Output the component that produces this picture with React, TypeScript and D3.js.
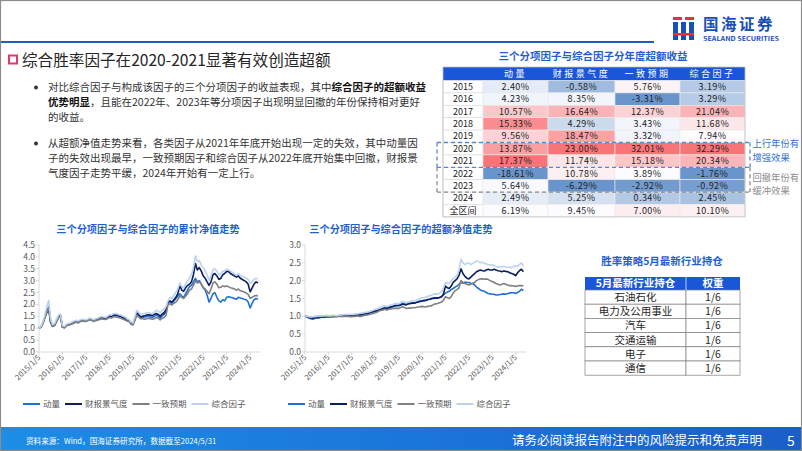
import React from "react";
import * as d3 from "d3";

// ---------- data ----------
const tableYears = ["2015", "2016", "2017", "2018", "2019", "2020", "2021", "2022", "2023", "2024", "全区间"];
const tableHeaders = ["动量", "财报景气度", "一致预期", "综合因子"];
const tblMomentum = [2.40, 4.23, 10.57, 15.33, 9.56, 13.87, 17.37, -18.61, 5.64, 2.49, 6.19];
const tblFinance = [-0.58, 8.35, 16.64, 4.29, 18.47, 23.00, 11.74, 10.78, -6.29, 5.25, 9.45];
const tblConsensus = [5.76, -3.31, 12.37, 3.43, 3.32, 32.01, 15.18, 3.89, -2.92, 0.34, 7.00];
const tblComposite = [3.19, 3.29, 21.04, 11.68, 7.94, 32.29, 20.34, -1.76, -0.92, 2.45, 10.10];

const holdIndustries = ["石油石化", "电力及公用事业", "汽车", "交通运输", "电子", "通信"];
const holdWeights = ["1/6", "1/6", "1/6", "1/6", "1/6", "1/6"];

const seriesNames = ["动量", "财报景气度", "一致预期", "综合因子"];
const seriesColors = ["#1f6fd8", "#0b1f5e", "#808080", "#bcd3ef"];
const xTickLabels = ["2015/1/5", "2016/1/5", "2017/1/5", "2018/1/5", "2019/1/5", "2020/1/5", "2021/1/5", "2022/1/5", "2023/1/5", "2024/1/5"];

// cumulative NAV, monthly from 2015/1 to 2024/5
const navMomentum = [
  1.00, 1.05, 1.20, 1.45, 1.70, 1.90, 1.30, 1.10, 1.15, 1.30, 1.48, 1.52,
  1.05, 1.02, 1.12, 1.15, 1.18, 1.20, 1.25, 1.28, 1.25, 1.30, 1.33, 1.30,
  1.30, 1.34, 1.38, 1.35, 1.30, 1.35, 1.38, 1.40, 1.42, 1.40, 1.40, 1.44,
  1.50, 1.48, 1.52, 1.55, 1.52, 1.50, 1.48, 1.42, 1.40, 1.33, 1.30, 1.20,
  1.16, 1.35, 1.58, 1.52, 1.42, 1.45, 1.47, 1.48, 1.50, 1.47, 1.45, 1.50,
  1.55, 1.50, 1.42, 1.52, 1.58, 1.70, 2.05, 2.10, 2.05, 2.15, 2.25, 2.35,
  2.45, 2.35, 2.30, 2.45, 2.60, 2.75, 2.80, 2.95, 3.10, 2.95, 3.00, 2.85,
  2.70, 2.60, 2.40, 2.10, 2.25, 2.45, 2.50, 2.30, 2.15, 2.10, 2.20, 2.15,
  2.30, 2.32, 2.30, 2.28, 2.25, 2.22, 2.30, 2.27, 2.25, 2.22, 2.20, 2.10,
  1.85, 2.05, 2.20, 2.25, 2.22,
];
const navFinance = [
  1.00, 1.06, 1.20, 1.45, 1.65, 1.80, 1.25, 1.08, 1.12, 1.30, 1.50, 1.55,
  1.05, 1.03, 1.13, 1.16, 1.18, 1.22, 1.27, 1.30, 1.28, 1.32, 1.35, 1.32,
  1.32, 1.36, 1.40, 1.37, 1.32, 1.36, 1.38, 1.42, 1.45, 1.43, 1.42, 1.46,
  1.52, 1.50, 1.55, 1.57, 1.55, 1.52, 1.50, 1.45, 1.42, 1.35, 1.32, 1.22,
  1.18, 1.40, 1.65, 1.58, 1.48, 1.50, 1.52, 1.55, 1.57, 1.55, 1.53, 1.58,
  1.62, 1.58, 1.50, 1.60, 1.65, 1.78, 2.10, 2.15, 2.10, 2.20, 2.30, 2.45,
  2.80, 2.60, 2.55, 2.70, 2.80, 2.85, 2.95, 3.25, 3.72, 3.45, 3.55, 3.40,
  3.20, 3.10, 2.95, 2.80, 2.95, 3.25, 3.30, 3.20, 3.05, 3.10, 3.25, 3.30,
  3.40, 3.38, 3.30, 3.25, 3.20, 3.15, 3.20, 3.10, 3.05, 3.00, 2.95, 2.85,
  2.53, 2.70, 2.85, 2.95, 2.90,
];
const navConsensus = [
  1.00, 1.05, 1.18, 1.42, 1.65, 1.85, 1.30, 1.10, 1.12, 1.28, 1.45, 1.50,
  1.05, 1.02, 1.10, 1.13, 1.15, 1.18, 1.22, 1.25, 1.22, 1.27, 1.30, 1.28,
  1.28, 1.32, 1.35, 1.33, 1.28, 1.32, 1.34, 1.37, 1.40, 1.38, 1.37, 1.40,
  1.45, 1.43, 1.47, 1.48, 1.46, 1.44, 1.42, 1.38, 1.35, 1.30, 1.28, 1.18,
  1.13, 1.32, 1.55, 1.48, 1.40, 1.40, 1.38, 1.40, 1.42, 1.40, 1.38, 1.40,
  1.45, 1.42, 1.35, 1.42, 1.45, 1.55, 2.00, 2.02, 1.98, 2.05, 2.10, 2.20,
  2.35, 2.30, 2.25, 2.35, 2.45, 2.60, 2.65, 2.80, 3.00, 2.90, 2.95, 2.85,
  2.70, 2.65, 2.55, 2.45, 2.65, 2.90, 2.95, 2.85, 2.70, 2.72, 2.78, 2.75,
  2.78, 2.74, 2.70, 2.68, 2.65, 2.60, 2.65, 2.58, 2.55, 2.52, 2.48, 2.42,
  2.25, 2.30, 2.35, 2.38, 2.35,
];
const navComposite = [
  1.00, 1.08, 1.25, 1.55, 1.90, 2.18, 1.40, 1.15, 1.20, 1.38, 1.55, 1.60,
  1.10, 1.08, 1.17, 1.20, 1.22, 1.26, 1.30, 1.33, 1.30, 1.35, 1.38, 1.36,
  1.35, 1.39, 1.43, 1.40, 1.36, 1.40, 1.42, 1.46, 1.49, 1.47, 1.45, 1.50,
  1.57, 1.55, 1.60, 1.62, 1.60, 1.57, 1.55, 1.50, 1.47, 1.40, 1.37, 1.27,
  1.22, 1.48, 1.75, 1.68, 1.57, 1.60, 1.62, 1.64, 1.66, 1.63, 1.62, 1.68,
  1.75, 1.72, 1.65, 1.75, 1.80, 1.92, 2.15, 2.30, 2.25, 2.38, 2.50, 2.65,
  2.90, 2.75, 2.70, 2.85, 3.00, 3.10, 3.25, 3.55, 4.05, 3.80, 3.85, 3.65,
  3.55, 3.40, 3.25, 3.02, 3.20, 3.45, 3.50, 3.40, 3.25, 3.30, 3.40, 3.42,
  3.48, 3.45, 3.40, 3.35, 3.30, 3.23, 3.30, 3.22, 3.18, 3.15, 3.10, 3.05,
  2.88, 2.95, 3.05, 3.10, 3.08,
];

// excess NAV, monthly from 2015/1 to 2024/5
const exMomentum = [
  1.00, 0.98, 0.95, 0.93, 0.92, 0.94, 0.96, 0.95, 0.97, 0.98, 0.97, 0.98,
  0.98, 0.99, 0.99, 1.00, 0.99, 1.00, 1.01, 1.00, 1.01, 1.01, 1.02, 1.01,
  1.01, 1.02, 1.02, 1.03, 1.04, 1.03, 1.05, 1.06, 1.07, 1.08, 1.10, 1.12,
  1.13, 1.15, 1.17, 1.18, 1.20, 1.22, 1.21, 1.23, 1.25, 1.27, 1.28, 1.30,
  1.31, 1.34, 1.37, 1.35, 1.34, 1.36, 1.36, 1.38, 1.37, 1.39, 1.40, 1.42,
  1.43, 1.45, 1.44, 1.47, 1.48, 1.50, 1.52, 1.50, 1.52, 1.53, 1.55, 1.60,
  1.65, 1.68, 1.70, 1.75, 1.78, 1.82, 1.85, 1.90, 1.95, 1.93, 1.96, 1.95,
  1.95, 1.93, 1.92, 1.88, 1.82, 1.78, 1.74, 1.72, 1.70, 1.67, 1.64, 1.63,
  1.62, 1.62, 1.60, 1.60, 1.61, 1.62, 1.63, 1.62, 1.64, 1.65, 1.66, 1.66,
  1.64, 1.67, 1.70, 1.76, 1.72,
];
const exFinance = [
  1.00, 0.99, 0.97, 0.96, 0.95, 0.96, 0.97, 0.97, 0.98, 0.98, 0.98, 0.99,
  0.99, 0.99, 1.00, 1.00, 1.00, 1.01, 1.01, 1.01, 1.02, 1.02, 1.02, 1.02,
  1.02, 1.03, 1.03, 1.04, 1.04, 1.05, 1.06, 1.07, 1.08, 1.10, 1.12, 1.14,
  1.15, 1.16, 1.18, 1.20, 1.22, 1.24, 1.22, 1.25, 1.27, 1.28, 1.30, 1.31,
  1.30, 1.32, 1.34, 1.33, 1.32, 1.35, 1.36, 1.37, 1.37, 1.39, 1.40, 1.42,
  1.43, 1.44, 1.45, 1.47, 1.48, 1.50, 1.50, 1.52, 1.51, 1.53, 1.55, 1.62,
  1.85, 1.80, 1.78, 1.85, 1.95, 2.00, 2.05, 2.15, 2.33, 2.20, 2.12, 2.07,
  2.05, 2.10, 2.15, 2.20, 2.25, 2.28, 2.30, 2.28, 2.27, 2.30, 2.32, 2.30,
  2.30, 2.32, 2.30, 2.28, 2.27, 2.25, 2.27, 2.26, 2.25, 2.22, 2.20, 2.18,
  2.14, 2.22, 2.28, 2.32, 2.25,
];
const exConsensus = [
  1.00, 1.00, 0.99, 0.98, 0.98, 0.99, 1.00, 1.00, 1.00, 1.01, 1.00, 1.00,
  0.99, 0.99, 0.99, 1.00, 0.99, 1.00, 1.00, 0.99, 1.00, 1.00, 1.00, 0.99,
  0.99, 1.00, 1.00, 1.01, 1.00, 1.00, 1.02, 1.03, 1.04, 1.05, 1.07, 1.08,
  1.10, 1.12, 1.15, 1.17, 1.18, 1.20, 1.18, 1.20, 1.21, 1.22, 1.22, 1.23,
  1.22, 1.25, 1.27, 1.25, 1.22, 1.23, 1.23, 1.24, 1.24, 1.25, 1.26, 1.27,
  1.28, 1.27, 1.26, 1.28, 1.29, 1.30, 1.33, 1.35, 1.36, 1.38, 1.40, 1.45,
  1.55, 1.52, 1.50, 1.55, 1.65, 1.72, 1.75, 1.80, 2.00, 1.95, 1.92, 1.90,
  1.88, 1.90, 1.93, 1.95, 2.00, 2.03, 2.05, 2.05, 2.04, 2.05, 2.03, 2.00,
  1.98, 1.95, 1.92, 1.90, 1.88, 1.90, 1.92, 1.90, 1.88, 1.86, 1.86, 1.85,
  1.84, 1.85, 1.86, 1.86, 1.85,
];
const exComposite = [
  1.00, 1.00, 0.99, 0.98, 0.99, 1.00, 1.00, 1.01, 1.01, 1.02, 1.02, 1.03,
  1.02, 1.02, 1.03, 1.03, 1.02, 1.03, 1.04, 1.04, 1.05, 1.05, 1.06, 1.05,
  1.05, 1.06, 1.07, 1.07, 1.08, 1.09, 1.10, 1.11, 1.12, 1.13, 1.15, 1.17,
  1.20, 1.22, 1.24, 1.26, 1.28, 1.30, 1.28, 1.30, 1.32, 1.33, 1.35, 1.36,
  1.35, 1.38, 1.42, 1.40, 1.38, 1.40, 1.42, 1.43, 1.44, 1.45, 1.47, 1.50,
  1.52, 1.53, 1.54, 1.56, 1.58, 1.60, 1.62, 1.63, 1.62, 1.65, 1.70, 1.80,
  1.95, 1.93, 1.92, 2.00, 2.05, 2.10, 2.15, 2.30, 2.60, 2.50, 2.45, 2.48,
  2.50, 2.45, 2.48, 2.52, 2.55, 2.53, 2.50, 2.52, 2.48, 2.47, 2.45, 2.43,
  2.45, 2.42, 2.40, 2.38, 2.40, 2.38, 2.40, 2.38, 2.37, 2.38, 2.36, 2.40,
  2.42, 2.40, 2.45, 2.50, 2.42,
];

// ---------- helpers ----------
const FONT = "'Noto Sans CJK SC', 'Noto Sans', sans-serif";
const BLUE = "#1f5fd0";
const startDate = new Date(2015, 0, 5);
const endDate = new Date(2024, 4, 31);
const months = navMomentum.map((_, i) => d3.timeMonth.offset(startDate, i));
const tickDates = xTickLabels.map((s) => {
  const [y, m, d] = s.split("/").map(Number);
  return new Date(y, m - 1, d);
});

function LineChart(props: {
  title: string; titleX: number; x0: number; x1: number; yMax: number;
  data: number[][]; legendX: number;
}) {
  const { title, titleX, x0, x1, yMax, data, legendX } = props;
  const x = d3.scaleTime().domain([startDate, endDate]).range([x0, x1]);
  const y = d3.scaleLinear().domain([0, yMax]).range([352, 245]);
  const yTicks = d3.range(0, yMax + 0.001, 0.5);
  const line = d3.line<number>().x((_, i) => x(months[i])).y((v) => y(v)).curve(d3.curveLinear);
  const legendW = [17, 42.5, 34, 34];
  let lx = legendX;
  const legendPos = legendW.map((w) => { const p = lx; lx += 20 + w + 5; return p; });
  return (
    <g>
      <text x={titleX} y={232.5} textAnchor="middle" fontSize={10.2} fontWeight="bold" fill={BLUE} fontFamily={FONT}>{title}</text>
      <line x1={x0} x2={x0} y1={245} y2={352} stroke="#d0d0d0" strokeWidth={0.8} />
      {yTicks.map((t) => (
        <g key={t}>
          <line x1={x0 - 3} x2={x0} y1={y(t)} y2={y(t)} stroke="#d0d0d0" strokeWidth={0.8} />
          <text x={x0 - 4} y={y(t) + 3} textAnchor="end" fontSize={8.5} fill="#595959" fontFamily={FONT}>{t.toFixed(1)}</text>
        </g>
      ))}
      <line x1={x0} x2={x1 + 1} y1={352} y2={352} stroke="#d0d0d0" strokeWidth={0.8} />
      {tickDates.map((d, i) => (
        <g key={i}>
          <line x1={x(d)} x2={x(d)} y1={352} y2={355} stroke="#d0d0d0" strokeWidth={0.8} />
          <text transform={`translate(${x(d) + 2},${358}) rotate(-45)`} textAnchor="end" fontSize={7.8} fill="#595959" fontFamily={FONT}>{xTickLabels[i]}</text>
        </g>
      ))}
      {data.map((s, k) => (
        <path key={k} d={line(s) || ""} fill="none" stroke={seriesColors[k]} strokeWidth={1.6} strokeLinejoin="round" />
      ))}
      {seriesNames.map((n, k) => (
        <g key={n}>
          <line x1={legendPos[k]} x2={legendPos[k] + 17} y1={404} y2={404} stroke={seriesColors[k]} strokeWidth={2} />
          <text x={legendPos[k] + 20} y={407} fontSize={8.5} fill="#595959" fontFamily={FONT}>{n}</text>
        </g>
      ))}
    </g>
  );
}

function heatColor(col: number[], v: number) {
  const sorted = [...col].sort((a, b) => a - b);
  const mid = d3.quantileSorted(sorted, 0.5) as number;
  const mn = sorted[0], mx = sorted[sorted.length - 1];
  const white = "#fcfcff";
  if (v >= mid) return d3.interpolateRgb(white, "#f8696b")(0.92 * (v - mid) / (mx - mid || 1));
  return d3.interpolateRgb(white, "#5a8ac6")(0.9 * (mid - v) / (mid - mn || 1));
}

function HeatTable() {
  const cols = [tblMomentum, tblFinance, tblConsensus, tblComposite];
  const xb = [443, 483, 548, 615, 680, 745];
  const headTop = 67, headH = 13.5, rowH = 12.4;
  const rowTop = headTop + headH;
  const yb = (i: number) => rowTop + i * rowH;
  return (
    <g fontFamily={FONT}>
      <text x={593} y={60} textAnchor="middle" fontSize={10.5} fontWeight="bold" fill={BLUE}>三个分项因子与综合因子分年度超额收益</text>
      <rect x={xb[0]} y={headTop} width={xb[5] - xb[0]} height={headH} fill="#1a56d8" />
      {tableHeaders.map((h, j) => (
        <text key={h} x={(xb[j + 1] + xb[j + 2]) / 2} y={headTop + 10} textAnchor="middle" fontSize={9} fill="#fff" letterSpacing={2.5}>{h}</text>
      ))}
      {tableYears.map((yr, i) => (
        <g key={yr}>
          <rect x={xb[0]} y={yb(i)} width={xb[1] - xb[0]} height={rowH} fill="#fff" stroke="#d9d9d9" strokeWidth={0.6} />
          <text x={(xb[0] + xb[1]) / 2} y={yb(i) + 9.3} textAnchor="middle" fontSize={9} fill="#222">{yr}</text>
          {cols.map((c, j) => (
            <g key={j}>
              <rect x={xb[j + 1]} y={yb(i)} width={xb[j + 2] - xb[j + 1]} height={rowH} fill={heatColor(c, c[i])} stroke="#ececec" strokeWidth={0.6} />
              <text x={(xb[j + 1] + xb[j + 2]) / 2} y={yb(i) + 9.3} textAnchor="middle" fontSize={9} fill="#222" letterSpacing={0.4}>{c[i].toFixed(2) + "%"}</text>
            </g>
          ))}
        </g>
      ))}
      <rect x={xb[0]} y={headTop} width={xb[5] - xb[0]} height={yb(11) - headTop} fill="none" stroke="#bfbfbf" strokeWidth={0.8} />
      {/* dashed annotation boxes */}
      <path d={`M437,${yb(9)} H750 M437,${yb(7)} V${yb(9)} M750,${yb(7)} V${yb(9)}`} fill="none" stroke="#8c8c8c" strokeWidth={1.3} strokeDasharray="4,3" />
      <path d={`M437,${yb(5)} H750 M437,${yb(7)} H750 M437,${yb(5)} V${yb(7)} M750,${yb(5)} V${yb(7)}`} fill="none" stroke="#5b86c9" strokeWidth={1.3} strokeDasharray="4,3" />
      <text x={752.5} y={147} fontSize={9.3} fill="#2f6fd6">上行年份有</text>
      <text x={752.5} y={160.5} fontSize={9.3} fill="#2f6fd6">增强效果</text>
      <text x={752.5} y={180.5} fontSize={9.3} fill="#8c8c8c">回撤年份有</text>
      <text x={752.5} y={194} fontSize={9.3} fill="#8c8c8c">缓冲效果</text>
    </g>
  );
}

function HoldTable() {
  const x0 = 585, xm = 686, x1 = 740, top = 277, hh = 13, rh = 14.2;
  return (
    <g fontFamily={FONT}>
      <text x={662} y={265} textAnchor="middle" fontSize={10.5} fontWeight="bold" fill={BLUE}>胜率策略5月最新行业持仓</text>
      <rect x={x0} y={top} width={x1 - x0} height={hh} fill="#1a56d8" />
      <text x={(x0 + xm) / 2} y={top + 10} textAnchor="middle" fontSize={10.5} fontWeight="bold" fill="#fff">5月最新行业持仓</text>
      <text x={(xm + x1) / 2} y={top + 10} textAnchor="middle" fontSize={10.5} fontWeight="bold" fill="#fff">权重</text>
      {holdIndustries.map((n, i) => {
        const yy = top + hh + i * rh;
        return (
          <g key={n}>
            <rect x={x0} y={yy} width={xm - x0} height={rh} fill="#fff" stroke="#7f7f7f" strokeWidth={0.7} />
            <rect x={xm} y={yy} width={x1 - xm} height={rh} fill="#fff" stroke="#7f7f7f" strokeWidth={0.7} />
            <text x={(x0 + xm) / 2} y={yy + 11} textAnchor="middle" fontSize={10.5} fill="#262626">{n}</text>
            <text x={(xm + x1) / 2} y={yy + 11} textAnchor="middle" fontSize={10.5} fill="#262626">{holdWeights[i]}</text>
          </g>
        );
      })}
      <line x1={xm} x2={xm} y1={top} y2={top + hh} stroke="#fff" strokeWidth={0.7} />
    </g>
  );
}

export default function App() {
  const tf = { fontFamily: FONT, fontSize: 10.5, fill: "#333" };
  return (
    <svg width={802} height={451} viewBox="0 0 802 451" style={{ position: "absolute", left: 0, top: 0, background: "#fff" }}>
      <defs>
        <linearGradient id="foot" x1="0" x2="1" y1="0" y2="0">
          <stop offset="0" stopColor="#1d8de6" />
          <stop offset="0.6" stopColor="#1a72d8" />
          <stop offset="1" stopColor="#1a5ec8" />
        </linearGradient>
      </defs>
      <rect x={0} y={0} width={802} height={451} fill="#fff" />
      {/* top line + logo */}
      <rect x={0} y={41} width={654} height={2} fill="#1a5fc0" />
      <g>
        <rect x={673} y={22} width={5} height={18} fill="#1a4fb5" />
        <rect x={681} y={22} width={5} height={18} fill="#1a4fb5" />
        <rect x={689} y={22} width={5} height={18} fill="#1a4fb5" />
        <rect x={673} y={17} width={9} height={3} fill="#e0343c" />
        <rect x={685} y={17} width={9} height={3} fill="#e0343c" />
        <rect x={673} y={33} width={21} height={2.5} fill="#e0343c" />
        <text x={703} y={29.5} fontFamily={FONT} fontSize={15.5} fontWeight="bold" fill="#1a4fb5" letterSpacing={2.5}>国海证券</text>
        <text x={703} y={40.5} fontFamily={FONT} fontSize={6} fontWeight="bold" fill="#1a4fb5" textLength={76} lengthAdjust="spacingAndGlyphs">SEALAND SECURITIES</text>
      </g>
      {/* title */}
      <rect x={9} y={55.5} width={8} height={8} fill="#fff" stroke="#e03a6a" strokeWidth={2} />
      <text x={22} y={66} fontFamily={FONT} fontSize={15.6} fill="#262626">综合胜率因子在2020-2021显著有效创造超额</text>
      {/* bullets */}
      <circle cx={36} cy={87.5} r={2} fill="#333" />
      <text x={48} y={91} {...tf}>对比综合因子与构成该因子的三个分项因子的收益表现，其中<tspan fontWeight="bold" fill="#111">综合因子的超额收益</tspan></text>
      <text x={48} y={106} {...tf}><tspan fontWeight="bold" fill="#111">优势明显</tspan>，且能在2022年、2023年等分项因子出现明显回撤的年份保持相对更好</text>
      <text x={48} y={121} {...tf}>的收益。</text>
      <circle cx={36} cy={143.5} r={2} fill="#333" />
      <text x={48} y={147} {...tf}>从超额净值走势来看，各类因子从2021年年底开始出现一定的失效，其中动量因</text>
      <text x={48} y={162} {...tf}>子的失效出现最早，一致预期因子和综合因子从2022年底开始集中回撤，财报景</text>
      <text x={48} y={177} {...tf}>气度因子走势平缓，2024年开始有一定上行。</text>

      <HeatTable />

      <LineChart title="三个分项因子与综合因子的累计净值走势" titleX={148} x0={39} x1={259.6} yMax={4.5}
        data={[navMomentum, navFinance, navConsensus, navComposite]} legendX={23} />
      <LineChart title="三个分项因子与综合因子的超额净值走势" titleX={401} x0={305} x1={525} yMax={3}
        data={[exMomentum, exFinance, exConsensus, exComposite]} legendX={288} />

      <HoldTable />

      {/* footer */}
      <rect x={0} y={427} width={802} height={24} fill="url(#foot)" />
      <text x={26} y={444} fontFamily={FONT} fontSize={7.6} fill="#fff">资料来源：Wind，国海证券研究所，数据截至2024/5/31</text>
      <text x={512} y={445} fontFamily={FONT} fontSize={12.5} fill="#fff">请务必阅读报告附注中的风险提示和免责声明</text>
      <text x={787} y={446} fontFamily={FONT} fontSize={14} fill="#fff">5</text>
      <rect x={0.5} y={0.5} width={801} height={450} fill="none" stroke="#8c8c8c" strokeWidth={1.2} />
    </svg>
  );
}
